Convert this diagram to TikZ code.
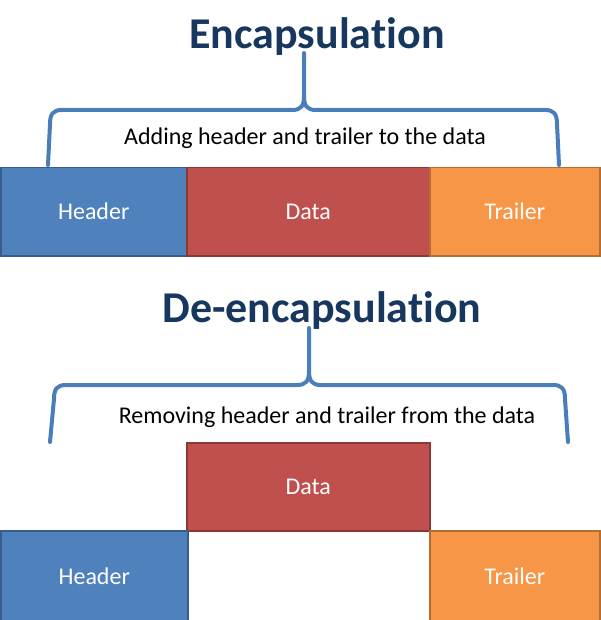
\documentclass[tikz,border=0pt]{standalone}
\usepackage{fontspec}
\setmainfont{Carlito}[Ligatures=NoCommon]
\definecolor{titlecol}{HTML}{17375E}
\definecolor{bracecol}{HTML}{4A7EBB}
\definecolor{hfill}{HTML}{4F81BD}
\definecolor{hdraw}{HTML}{385D8A}
\definecolor{dfill}{HTML}{C0504D}
\definecolor{ddraw}{HTML}{8C3836}
\definecolor{tfill}{HTML}{F79646}
\definecolor{tdraw}{HTML}{B66D31}
\tikzset{
  box/.style={rectangle, anchor=north west, inner sep=0pt, line width=1.5pt,
    text=white, font=\fontsize{24}{28}\selectfont},
  hbox/.style={box, fill=hfill, draw=hdraw},
  dbox/.style={box, fill=dfill, draw=ddraw},
  tbox/.style={box, fill=tfill, draw=tdraw},
  titletext/.style={text=titlecol, font=\fontsize{44}{52}\selectfont\bfseries, inner sep=0pt},
  caption/.style={text=black, font=\fontsize{24}{28}\selectfont, inner sep=0pt},
  bracepath/.style={draw=bracecol, line width=4pt, line cap=round, line join=round}
}
\begin{document}
\begin{tikzpicture}[x=1pt,y=-1pt]
\useasboundingbox (0,0) rectangle (600,620);
% ---- Encapsulation ----
\node[titletext] (t1) at (317,37) {Encapsulation};
\draw[bracepath] (304,53) -- (304,96) .. controls (304,106) and (301,110) .. (292,110)
  -- (62,110) .. controls (53,110) and (50,114) .. (50,124) -- (48,165);
\draw[bracepath] (304,96) .. controls (304,106) and (307,110) .. (316,110)
  -- (545,110) .. controls (554,110) and (557,114) .. (557,124) -- (559,165);
\node[caption] (c1) at (305,138) {Adding header and trailer to the data};
\node[hbox, minimum width=186pt, minimum height=88pt] (h1) at (0,167) {Header};
\node[dbox, minimum width=243pt, minimum height=88pt] (d1) at (186,167) {Data};
\node[tbox, minimum width=170pt, minimum height=88pt] (r1) at (429,167) {Trailer};
% ---- De-encapsulation ----
\node[titletext] (t2) at (322,311) {De-encapsulation};
\draw[bracepath] (309,328) -- (309,371) .. controls (309,381) and (306,385) .. (297,385)
  -- (66,385) .. controls (57,385) and (54,389) .. (54,399) -- (50,442);
\draw[bracepath] (309,371) .. controls (309,381) and (312,385) .. (321,385)
  -- (553,385) .. controls (562,385) and (565,389) .. (565,399) -- (568,442);
\node[caption] (c2) at (327,417) {Removing header and trailer from the data};
\node[dbox, minimum width=243pt, minimum height=88pt] (d2) at (186,442) {Data};
\node[hbox, minimum width=187pt, minimum height=90pt] (h2) at (0,530) {Header};
\node[tbox, minimum width=170pt, minimum height=90pt] (r2) at (429,530) {Trailer};
\end{tikzpicture}
\end{document}
